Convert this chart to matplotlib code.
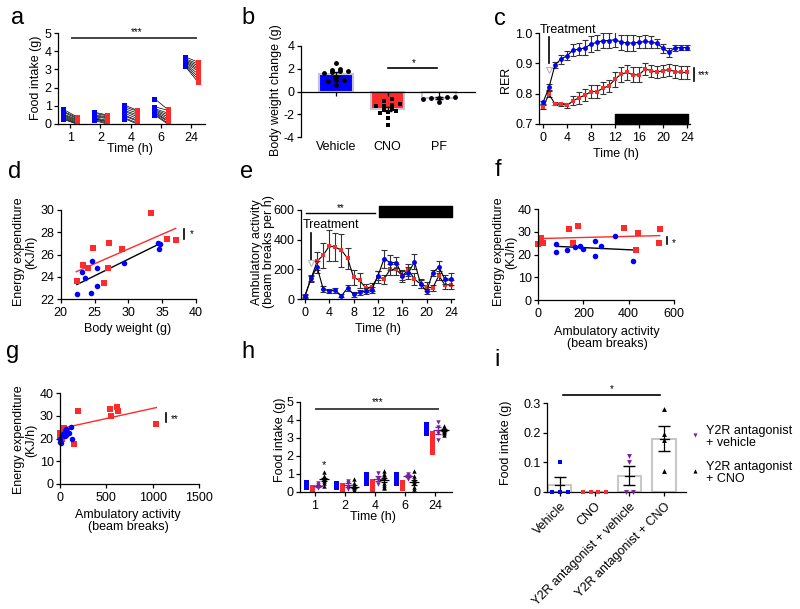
import numpy as np
import matplotlib
matplotlib.use('Agg')
import matplotlib.pyplot as plt

plt.rcParams['font.family'] = ['Liberation Sans', 'DejaVu Sans']
plt.rcParams['font.size'] = 9
plt.rcParams['axes.linewidth'] = 0.9
plt.rcParams['axes.unicode_minus'] = False

W, H = 800, 609
BLUE = '#0000ff'
RED = '#ff2a2a'
PURPLE = '#7a1fa0'
EDGE = '#c4c4d8'

#%% data

# a: food intake, vehicle (blue) vs CNO (red), paired mice
a_times = ['1', '2', '4', '6', '24']
a_veh = [[0.8, 0.7, 0.65, 0.55, 0.5, 0.45, 0.4, 0.35, 0.3, 0.25],
         [0.65, 0.6, 0.5, 0.45, 0.4, 0.35, 0.3, 0.3, 0.25, 0.2],
         [1.05, 0.95, 0.85, 0.75, 0.7, 0.6, 0.5, 0.45, 0.35, 0.3],
         [1.4, 0.95, 0.85, 0.8, 0.75, 0.7, 0.65, 0.6, 0.55, 0.5],
         [3.7, 3.6, 3.55, 3.5, 3.45, 3.4, 3.35, 3.3, 3.25, 3.2]]
a_cno = [[0.4, 0.35, 0.3, 0.25, 0.2, 0.15, 0.1, 0.05, 0.02, 0.0],
         [0.5, 0.45, 0.4, 0.35, 0.3, 0.2, 0.15, 0.1, 0.05, 0.0],
         [0.75, 0.7, 0.6, 0.5, 0.4, 0.3, 0.2, 0.15, 0.05, 0.0],
         [0.8, 0.75, 0.6, 0.5, 0.4, 0.3, 0.2, 0.15, 0.05, 0.0],
         [3.4, 3.3, 3.2, 3.1, 3.0, 2.9, 2.75, 2.6, 2.45, 2.3]]

# b: body weight change
b_groups = ['Vehicle', 'CNO', 'PF']
b_veh = [2.5, 2.0, 1.9, 1.8, 1.8, 1.75, 1.65, 1.25, 1.0, 1.0, 0.9, 0.6]
b_cno = [-0.7, -0.85, -1.1, -1.2, -1.3, -1.3, -1.5, -1.6, -1.7, -1.8, -1.9, -2.3, -2.95]
b_pf = [-0.65, -0.45, -0.55, -0.55, -0.45, -0.9]

# c: RER over 24 h
c_hours = np.arange(25)
c_veh = [0.771, 0.821, 0.895, 0.914, 0.925, 0.943, 0.947, 0.951, 0.964, 0.969,
         0.975, 0.975, 0.978, 0.970, 0.967, 0.967, 0.969, 0.972, 0.970, 0.966,
         0.949, 0.937, 0.951, 0.952, 0.952]
c_veh_err = [0.005, 0.01, 0.01, 0.015, 0.015, 0.02, 0.02, 0.025, 0.025, 0.025,
             0.025, 0.025, 0.025, 0.025, 0.025, 0.025, 0.02, 0.02, 0.02, 0.015,
             0.015, 0.015, 0.01, 0.008, 0.008]
c_cno = [0.756, 0.798, 0.766, 0.765, 0.762, 0.776, 0.787, 0.795, 0.807, 0.807,
         0.818, 0.826, 0.848, 0.864, 0.870, 0.862, 0.862, 0.881, 0.876, 0.871,
         0.876, 0.879, 0.873, 0.870, 0.870]
c_cno_err = [0.005, 0.01, 0.005, 0.005, 0.008, 0.015, 0.02, 0.02, 0.02, 0.02,
             0.02, 0.02, 0.025, 0.025, 0.025, 0.025, 0.025, 0.02, 0.02, 0.02,
             0.02, 0.02, 0.02, 0.02, 0.02]

# d: energy expenditure vs body weight
d_cno_bw = [22.4, 23.35, 24.0, 24.8, 27.15, 26.95, 26.35, 29.0, 33.4, 35.7, 37.1]
d_cno_ee = [23.6, 25.1, 24.8, 26.6, 27.0, 24.75, 23.45, 26.5, 29.75, 27.4, 27.3]
d_veh_bw = [22.4, 23.1, 23.55, 24.7, 24.55, 25.4, 25.4, 29.4, 34.45, 34.7, 34.5]
d_veh_ee = [22.45, 24.45, 23.9, 25.45, 22.55, 24.75, 23.2, 25.25, 27.05, 26.9, 26.5]
d_fit_cno_x, d_fit_cno_y = [22.3, 37.0], [24.45, 28.35]
d_fit_veh_x, d_fit_veh_y = [22.4, 34.4], [23.3, 26.9]

# e: ambulatory activity over 24 h
e_hours = np.arange(25)
e_cno = [22, 137, 255, 295, 358, 349, 329, 275, 146, 125, 74, 81, 150, 134,
         199, 199, 157, 197, 134, 101, 83, 74, 157, 96, 96]
e_cno_err = [10, 20, 60, 85, 105, 95, 110, 70, 50, 50, 30, 30, 40, 30,
             40, 40, 40, 40, 40, 30, 30, 20, 30, 30, 30]
e_veh = [18, 141, 215, 67, 54, 58, 22, 74, 31, 45, 54, 63, 157, 271,
         246, 246, 157, 175, 251, 103, 51, 177, 215, 134, 134]
e_veh_err = [10, 20, 40, 20, 15, 15, 10, 20, 15, 15, 20, 20, 30, 60,
             50, 40, 30, 40, 50, 30, 15, 20, 40, 30, 40]

# f: energy expenditure vs ambulatory activity
f_cno_act = [0, 12, 22, 135, 154, 176, 379, 441, 431, 532, 540]
f_cno_ee = [24.5, 27.1, 24.9, 31.1, 24.9, 32.7, 31.5, 29.3, 21.8, 24.9, 31.2]
f_veh_act = [78, 81, 128, 163, 184, 200, 251, 251, 276, 341, 419]
f_veh_ee = [21.1, 24.8, 21.8, 23.4, 23.9, 22.6, 26.1, 19.5, 23.9, 28.3, 17.0]
f_fit_cno_x, f_fit_cno_y = [0, 537], [27.0, 28.3]
f_fit_veh_x, f_fit_veh_y = [78, 419], [23.6, 22.0]

# g: energy expenditure vs ambulatory activity
g_cno_act = [0, 5, 20, 40, 60, 80, 150, 190, 540, 545, 615, 625, 1040]
g_cno_ee = [22.5, 21.0, 20.0, 24.5, 22.5, 23.0, 17.5, 32.3, 33.0, 30.0, 33.8, 32.0, 26.5]
g_veh_act = [0, 5, 10, 20, 30, 40, 50, 55, 60, 70, 100, 115, 130]
g_veh_ee = [20.0, 18.5, 18.0, 21.5, 22.0, 22.0, 21.0, 23.5, 24.0, 21.5, 22.5, 25.0, 19.8]
g_fit_x, g_fit_y = [0, 1040], [24.3, 33.6]

# h: food intake with Y2R antagonist
h_times = ['1', '2', '4', '6', '24']
h_veh = [[0.55, 0.5, 0.45, 0.4, 0.35, 0.3],
         [0.5, 0.45, 0.4, 0.4, 0.35, 0.3],
         [1.0, 0.95, 0.9, 0.85, 0.6, 0.5],
         [1.0, 0.9, 0.8, 0.7, 0.6, 0.5],
         [3.8, 3.7, 3.6, 3.5, 3.4, 3.3]]
h_cno = [[0.3, 0.2, 0.1, 0.05, 0.0, 0.0],
         [0.4, 0.3, 0.2, 0.1, 0.0, 0.0],
         [0.6, 0.5, 0.4, 0.3, 0.1, 0.0],
         [0.55, 0.5, 0.4, 0.3, 0.25, 0.2],
         [3.25, 3.0, 2.8, 2.6, 2.4, 2.2]]
h_y2r_veh = [[0.5, 0.4, 0.3, 0.2],
             [0.6, 0.5, 0.3, 0.15],
             [1.05, 0.8, 0.7, 0.45],
             [1.0, 0.9, 0.8, 0.75],
             [3.9, 3.6, 3.3, 2.9]]
h_y2r_cno = [[1.1, 0.9, 0.8, 0.75, 0.7, 0.6, 0.5, 0.35],
             [0.7, 0.5, 0.4, 0.3, 0.2, 0.1, 0.05, 0.0],
             [1.15, 1.0, 0.95, 0.8, 0.5, 0.4, 0.3, 0.2],
             [1.15, 0.9, 0.75, 0.6, 0.5, 0.3, 0.15, 0.0],
             [3.65, 3.55, 3.5, 3.45, 3.4, 3.35, 3.3, 3.15]]

# i: 1 h food intake
i_groups = ['Vehicle', 'CNO', 'Y2R antagonist + vehicle', 'Y2R antagonist + CNO']
i_veh = [0, 0, 0, 0.1]
i_cno = [0, 0, 0, 0]
i_y2r_veh = [0, 0, 0.1, 0.12]
i_y2r_cno = [0.07, 0.175, 0.195, 0.28]


#%% helpers

fig = plt.figure(figsize=(8, 6.09), dpi=100)


def box(x0, y0, x1, y1):
    ax = fig.add_axes([x0 / W, 1 - y1 / H, (x1 - x0) / W, (y1 - y0) / H])
    ax.spines[['top', 'right']].set_visible(False)
    ax.tick_params(direction='out', length=3, width=0.9, labelsize=9, pad=1.5)
    ax.tick_params(axis='x', pad=3)
    return ax


def fxy(x, y):
    return x / W, 1 - y / H


def ylab(ax, txt, x, y):
    ax.set_ylabel(txt, fontsize=9, linespacing=1.05)
    ax.yaxis.set_label_coords(*fxy(x, y), transform=fig.transFigure)
    ax.yaxis.label.set_va('center')


def xlab(ax, txt, x, y):
    ax.set_xlabel(txt, fontsize=9, linespacing=1.05)
    ax.xaxis.set_label_coords(*fxy(x, y), transform=fig.transFigure)
    ax.xaxis.label.set_va('center')


def swarm(vals, step, tol):
    vals = np.asarray(vals, float)
    offs = np.zeros(len(vals))
    order = np.argsort(vals)
    grp = [order[0]]
    for k in order[1:]:
        if abs(vals[k] - vals[grp[0]]) <= tol:
            grp.append(k)
        else:
            offs[grp] = (np.arange(len(grp)) - (len(grp) - 1) / 2) * step
            grp = [k]
    offs[grp] = (np.arange(len(grp)) - (len(grp) - 1) / 2) * step
    return offs


def sem(v):
    v = np.asarray(v, float)
    return v.std(ddof=1) / np.sqrt(len(v))


#%% a
ax = box(58, 33, 205, 124)
for i in range(len(a_times)):
    for v, c in zip(a_veh[i], a_cno[i]):
        ax.plot([i - 0.22, i + 0.22], [v, c], color='k', lw=0.5)
    ax.plot(np.full(len(a_veh[i]), i - 0.22), a_veh[i], 's', color=BLUE, ms=3.6, mew=0)
    ax.plot(np.full(len(a_cno[i]), i + 0.22), a_cno[i], 's', color=RED, ms=3.6, mew=0)
ax.set_xlim(-0.4, 4.45)
ax.set_ylim(0, 5)
ax.set_xticks(range(5), a_times)
ax.set_yticks(range(6))
ax.plot([0.07, 4.15], [4.71, 4.71], color='#444444', lw=1.4, clip_on=False)
ax.text(2.2, 4.78, '***', ha='center', va='bottom', fontsize=7)
ylab(ax, 'Food intake (g)', 36, 78)
xlab(ax, 'Time (h)', 130, 149)

#%% b
ax = box(300.7, 46, 475, 137)
b_all = [b_veh, b_cno, b_pf]
b_mean = [np.mean(v) for v in b_all]
ax.bar(range(3), b_mean, width=0.65, color=[BLUE, RED, 'white'],
       edgecolor=EDGE, lw=1.5, zorder=1)
for i, v in enumerate(b_all):
    ax.errorbar(i, b_mean[i], yerr=sem(v), fmt='none', ecolor='k',
                elinewidth=0.9, capsize=3, zorder=2)
    mk = 's' if i == 1 else 'o'
    ax.plot(i + swarm(v, 0.155, 0.22), v, mk, color='k', ms=3.5, mew=0, zorder=3)
ax.spines['bottom'].set_position(('data', 0))
ax.set_xlim(-0.69, 2.7)
ax.set_ylim(-4, 4)
ax.set_yticks(range(-4, 5, 2))
ax.set_xticks(range(3), ['', '', ''])
for i, g in enumerate(b_groups):
    ax.text(i, -4.35, g, ha='center', va='top', fontsize=9)
ax.plot([1.0, 1.97], [2.08, 2.08], color='k', lw=1.2)
ax.text(1.5, 2.1, '*', ha='center', va='bottom', fontsize=7)
ylab(ax, 'Body weight change (g)', 276, 90)

#%% c
ax = box(539, 33, 690, 124)
for y, e, col, mk in [(c_cno, c_cno_err, RED, 's'), (c_veh, c_veh_err, BLUE, 'o')]:
    ax.errorbar(c_hours, y, yerr=e, fmt='none', ecolor='#333333',
                elinewidth=0.8, capsize=2, capthick=0.8)
    ax.plot(c_hours, y, '-', color='k', lw=0.8)
    ax.plot(c_hours, y, mk, color=col, ms=3.5, mew=0)
ax.broken_barh([(12, 12.2)], (0.7, 0.033), color='k', clip_on=False)
ax.set_xlim(-0.67, 24.5)
ax.set_ylim(0.7, 1.0)
ax.set_xticks(range(0, 25, 4))
ax.set_yticks([0.7, 0.8, 0.9, 1.0], ['0.7', '0.8', '0.9', '1.0'])
ax.text(-0.6, 1.009, 'Treatment', ha='left', va='center', fontsize=9)
ax.plot([1, 1], [0.987, 0.9], color='k', lw=1.2)
ax.plot(1, 0.878, 'v', mfc='none', mec='#b8b8b8', ms=5, mew=0.8)
ax.plot([25.2, 25.2], [0.842, 0.884], color='k', lw=1.2, clip_on=False)
ax.text(25.8, 0.862, '***', ha='left', va='center', fontsize=7)
ylab(ax, 'RER', 506, 80)
xlab(ax, 'Time (h)', 616, 154)

#%% d
ax = box(60.7, 210, 196, 299)
ax.plot(d_fit_cno_x, d_fit_cno_y, color=RED, lw=1)
ax.plot(d_fit_veh_x, d_fit_veh_y, color='k', lw=1)
ax.plot(d_cno_bw, d_cno_ee, 's', color=RED, ms=4, mew=0)
ax.plot(d_veh_bw, d_veh_ee, 'o', color=BLUE, ms=4, mew=0)
ax.set_xlim(20, 40)
ax.set_ylim(22, 30)
ax.set_xticks(range(20, 41, 5))
ax.set_yticks(range(22, 31, 2))
ax.plot([38.3, 38.3], [27.35, 28.3], color='k', lw=1.2, clip_on=False)
ax.text(39.1, 27.8, '*', ha='left', va='center', fontsize=7)
ylab(ax, 'Energy expenditure\n(KJ/h)', 25, 252)
xlab(ax, 'Body weight (g)', 128, 329)

#%% e
ax = box(300.7, 210, 454, 299)
for y, e, col, mk in [(e_cno, e_cno_err, RED, 's'), (e_veh, e_veh_err, BLUE, 'o')]:
    ax.errorbar(e_hours, y, yerr=e, fmt='none', ecolor='#333333',
                elinewidth=0.8, capsize=2, capthick=0.8)
    ax.plot(e_hours, y, '-', color='k', lw=0.8)
    ax.plot(e_hours, y, mk, color=col, ms=3.5, mew=0)
ax.broken_barh([(12.1, 12.0)], (555, 72), color='k', clip_on=False)
ax.set_xlim(-0.7, 24.5)
ax.set_ylim(0, 600)
ax.set_xticks(range(0, 25, 4))
ax.set_yticks(range(0, 601, 200))
ax.plot([0.15, 11.5], [578, 578], color='k', lw=1)
ax.text(5.8, 580, '**', ha='center', va='bottom', fontsize=7)
ax.text(-0.35, 499, 'Treatment', ha='left', va='center', fontsize=9)
ax.plot([1, 1], [443, 262], color='k', lw=1.2)
ax.plot(1, 240, 'v', mfc='none', mec='#b8b8b8', ms=5, mew=0.8)
ylab(ax, 'Ambulatory activity\n(beam breaks per h)', 263, 252)
xlab(ax, 'Time (h)', 378, 329)

#%% f
ax = box(538, 209, 674, 300)
ax.plot(f_fit_cno_x, f_fit_cno_y, color=RED, lw=1)
ax.plot(f_fit_veh_x, f_fit_veh_y, color='k', lw=1)
ax.plot(f_cno_act, f_cno_ee, 's', color=RED, ms=4, mew=0, clip_on=False)
ax.plot(f_veh_act, f_veh_ee, 'o', color=BLUE, ms=4, mew=0)
ax.set_xlim(0, 600)
ax.set_ylim(0, 40)
ax.set_xticks(range(0, 601, 200))
ax.set_yticks(range(0, 41, 10))
ax.plot([570, 570], [24.6, 27.8], color='k', lw=1.2, clip_on=False)
ax.text(590, 25.2, '*', ha='left', va='center', fontsize=7)
ylab(ax, 'Energy expenditure\n(KJ/h)', 505, 252)
xlab(ax, 'Ambulatory activity\n(beam breaks)', 607, 338)

#%% g
ax = box(60, 393, 199, 484)
ax.plot(g_fit_x, g_fit_y, color=RED, lw=1)
ax.plot(g_cno_act, g_cno_ee, 's', color=RED, ms=4, mew=0, clip_on=False)
ax.plot(g_veh_act, g_veh_ee, 'o', color=BLUE, ms=4, mew=0, clip_on=False)
ax.set_xlim(0, 1500)
ax.set_ylim(0, 40)
ax.set_xticks(range(0, 1501, 500))
ax.set_yticks(range(0, 41, 10))
ax.plot([1140, 1140], [27.2, 31.3], color='k', lw=1.2)
ax.text(1195, 28.5, '**', ha='left', va='center', fontsize=7)
ylab(ax, 'Energy expenditure\n(KJ/h)', 25, 440)
xlab(ax, 'Ambulatory activity\n(beam breaks)', 128, 521)

#%% h
ax = box(300, 402, 452, 492)
offs = [-0.3, -0.1, 0.1, 0.3]
for i in range(len(h_times)):
    ax.plot(np.full(len(h_veh[i]), i + offs[0]), h_veh[i], 's', color=BLUE, ms=3.6, mew=0)
    ax.plot(np.full(len(h_cno[i]), i + offs[1]), h_cno[i], 's', color=RED, ms=3.6, mew=0)
    for vals, col, mk, dx in [(h_y2r_veh[i], PURPLE, 'v', offs[2]),
                              (h_y2r_cno[i], 'k', '^', offs[3])]:
        ax.plot(np.full(len(vals), i + dx), vals, mk, color=col, ms=3.2, mew=0)
        ax.errorbar(i + dx, np.mean(vals), yerr=sem(vals), fmt='_', color=col,
                    ms=7, mew=0.9, elinewidth=0.9, capsize=2, capthick=0.9)
ax.text(0.3, 1.2, '*', ha='center', va='bottom', fontsize=8)
ax.set_xlim(-0.5, 4.57)
ax.set_ylim(0, 5)
ax.set_xticks(range(5), h_times)
ax.set_yticks(range(6))
ax.plot([0.03, 4.1], [4.63, 4.63], color='#444444', lw=1.4)
ax.text(2.1, 4.7, '***', ha='center', va='bottom', fontsize=7)
ylab(ax, 'Food intake (g)', 280, 440)
xlab(ax, 'Time (h)', 373, 517)

#%% i
ax = box(547, 403, 686, 492)
i_all = [i_veh, i_cno, i_y2r_veh, i_y2r_cno]
i_style = [(BLUE, 's'), (RED, 's'), (PURPLE, 'v'), ('k', '^')]
i_mean = [np.mean(v) for v in i_all]
ax.bar(range(4), i_mean, width=0.67, color='white', edgecolor='#c8c8c8', lw=1.5, zorder=1)
for k, v in enumerate(i_all):
    if np.ptp(v) > 0:
        ax.errorbar(k, i_mean[k], yerr=sem(v), fmt='none', ecolor='k',
                    elinewidth=0.9, capsize=4, zorder=2)
        ax.plot([k - 0.13, k + 0.13], [i_mean[k], i_mean[k]], color='k', lw=0.9, zorder=2)
    col, mk = i_style[k]
    ax.plot(k + swarm(v, 0.22, 0.005) * (k < 3), v, mk, color=col, ms=3.5, mew=0,
            zorder=3, clip_on=False)
ax.set_xlim(-0.37, 3.63)
ax.set_ylim(0, 0.3)
ax.set_yticks([0, 0.1, 0.2, 0.3], ['0', '0.1', '0.2', '0.3'])
ax.set_xticks(range(4), i_groups, rotation=45, ha='right', rotation_mode='anchor')
ax.plot([0.09, 2.88], [0.327, 0.327], color='k', lw=1.2, clip_on=False)
ax.text(1.5, 0.33, '*', ha='center', va='bottom', fontsize=7)
ylab(ax, 'Food intake (g)', 506, 443)

# legend for i
for (col, mk), txt, y in [(i_style[2], 'Y2R antagonist\n+ vehicle', 437),
                          (i_style[3], 'Y2R antagonist\n+ CNO', 473)]:
    fig.lines.append(plt.Line2D([695 / W], [1 - (y - 2) / H], marker=mk, color=col,
                                ms=3, mew=0, transform=fig.transFigure))
    fig.text(*fxy(706, y), txt, ha='left', va='center', fontsize=9, linespacing=1.1)

#%% panel letters
for lab, x, y in [('a', 18, 18), ('b', 248, 18), ('c', 500, 19),
                  ('d', 15, 172), ('e', 247, 172), ('f', 498, 170),
                  ('g', 13, 352), ('h', 248, 352), ('i', 497, 360)]:
    fig.text(*fxy(x, y), lab, ha='center', va='center', fontsize=17)

fig.savefig('out.png', dpi=100)
